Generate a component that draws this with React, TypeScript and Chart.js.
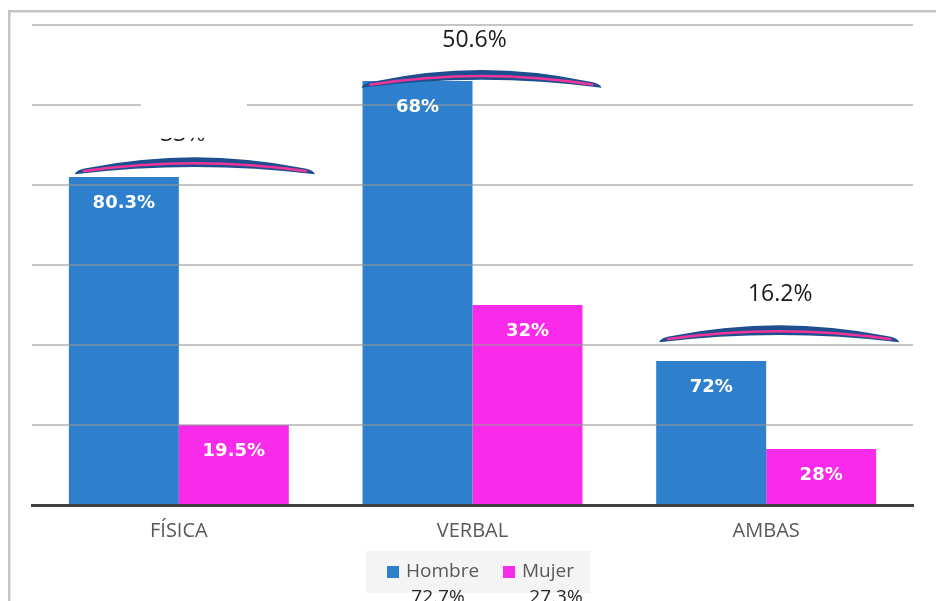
import React, { useEffect, useRef } from "react";
import { Chart, registerables } from "chart.js";

Chart.register(...registerables);

// Categories and series
const categories = ["FÍSICA", "VERBAL", "AMBAS"];
const seriesNames = ["Hombre", "Mujer"];

// Counts per category
const hombre = [41, 53, 18];
const mujer = [10, 25, 7];

// Share of each sex inside its category
const hombreLabels = ["80.3%", "68%", "72%"];
const mujerLabels = ["19.5%", "32%", "28%"];

// Share of each category over the total
const groupShares = ["33%", "50.6%", "16.2%"];

// Share of each sex over the total
const seriesShares = ["72.7%", "27.3%"];

const yMax = 60;
const yStep = 10;

const BLUE = "#2F80CC";
const PINK = "#F92AE9";
const NAVY = "#1D4F8F";
const ARC_PINK = "#F0359A";

// Brace decorations above each category, in axis units plus a horizontal shift in px
const braces = [
  { shift: 16, base: 41.6, peak: 43.1, label: 46.3, labelShift: -12 },
  { shift: 9, base: 52.4, peak: 54.0, label: 58.1, labelShift: -7 },
  { shift: 13, base: 20.6, peak: 22.1, label: 26.3, labelShift: 1 },
];

const overlayPlugin = {
  id: "overlay",
  afterDraw(chart: any) {
    const { ctx } = chart;
    const x = chart.scales.x;
    const y = chart.scales.y;
    const W = chart.width;
    const H = chart.height;

    ctx.save();

    // values inside bars
    const labelSets = [hombreLabels, mujerLabels];
    ctx.font = "bold 18px 'DejaVu Sans'";
    ctx.fillStyle = "#ffffff";
    ctx.textAlign = "center";
    ctx.textBaseline = "middle";
    chart.data.datasets.forEach((_: any, di: number) => {
      const meta = chart.getDatasetMeta(di);
      meta.data.forEach((el: any, i: number) => {
        ctx.fillText(labelSets[di][i], el.x, el.y + 26);
      });
    });

    // braces and category shares
    braces.forEach((b, i) => {
      const cx = x.getPixelForValue(i) + b.shift;
      const half = 120;
      const baseY = y.getPixelForValue(b.base);
      const peakY = y.getPixelForValue(b.peak);
      const ctrlTop = 2 * peakY - baseY;
      const ctrlBot = 2 * (peakY + 6.5) - (baseY + 1.5);

      ctx.beginPath();
      ctx.moveTo(cx - half, baseY + 2);
      ctx.quadraticCurveTo(cx - half + 1, baseY - 3, cx - half + 14, baseY - 4.5);
      ctx.quadraticCurveTo(cx, ctrlTop - 1.5, cx + half - 14, baseY - 4.5);
      ctx.quadraticCurveTo(cx + half - 1, baseY - 3, cx + half, baseY + 2);
      ctx.quadraticCurveTo(cx, ctrlBot, cx - half, baseY + 2);
      ctx.closePath();
      ctx.fillStyle = NAVY;
      ctx.fill();

      ctx.beginPath();
      ctx.moveTo(cx - half + 8, baseY - 1);
      ctx.quadraticCurveTo(cx, 2 * (peakY + 3) - (baseY - 1), cx + half - 8, baseY - 1);
      ctx.strokeStyle = ARC_PINK;
      ctx.lineWidth = 2.4;
      ctx.stroke();

      ctx.font = "23px 'Open Sans'";
      ctx.fillStyle = "#1a1a1a";
      ctx.textAlign = "center";
      ctx.textBaseline = "middle";
      ctx.fillText(groupShares[i], cx + b.labelShift, y.getPixelForValue(b.label));
    });

    // white patch over the first share label
    const c0 = x.getPixelForValue(0);
    const maskTop = y.getPixelForValue(51.2);
    const maskBottom = y.getPixelForValue(45.9);
    ctx.fillStyle = "#ffffff";
    ctx.fillRect(c0 - 38, maskTop, 106, maskBottom - maskTop);

    // outer frame (left and top edges)
    ctx.fillStyle = "#C4C4C4";
    ctx.fillRect(8, 10, W - 8, 2.5);
    ctx.fillRect(8, 10, 2.5, H - 10);

    // legend
    const lx = 366;
    const ly = 551;
    ctx.fillStyle = "#F4F4F4";
    ctx.fillRect(lx, ly, 224, 42);
    const colors = [BLUE, PINK];
    const itemX = [387, 503];
    const shareX = [438, 556];
    ctx.font = "19px 'Open Sans'";
    ctx.textAlign = "left";
    ctx.textBaseline = "middle";
    seriesNames.forEach((name, i) => {
      ctx.fillStyle = colors[i];
      ctx.fillRect(itemX[i], 566, 12, 12);
      ctx.fillStyle = "#595959";
      ctx.fillText(name, itemX[i] + 19, 572);
    });
    ctx.fillStyle = "#262626";
    ctx.textAlign = "center";
    ctx.textBaseline = "alphabetic";
    seriesShares.forEach((s, i) => {
      ctx.fillText(s, shareX[i], 603);
    });

    ctx.restore();
  },
};

export default function App() {
  const canvasRef = useRef<HTMLCanvasElement | null>(null);

  useEffect(() => {
    if (!canvasRef.current) return;
    const chart = new Chart(canvasRef.current, {
      type: "bar",
      data: {
        labels: categories,
        datasets: [
          { label: seriesNames[0], data: hombre, backgroundColor: BLUE },
          { label: seriesNames[1], data: mujer, backgroundColor: PINK },
        ],
      },
      options: {
        responsive: false,
        animation: false,
        devicePixelRatio: 1,
        layout: { padding: { top: 25, left: 32, right: 23, bottom: 44 } },
        datasets: {
          bar: { categoryPercentage: 0.749, barPercentage: 1.0 },
        },
        plugins: {
          legend: { display: false },
          tooltip: { enabled: false },
        },
        scales: {
          x: {
            grid: { display: false, drawTicks: false },
            border: { display: true, color: "#404040", width: 3, z: 2 },
            ticks: {
              color: "#595959",
              padding: 14,
              font: { family: "'Open Sans'", size: 20 },
            },
          },
          y: {
            min: 0,
            max: yMax,
            ticks: { display: false, stepSize: yStep },
            border: { display: false },
            grid: {
              drawTicks: false,
              lineWidth: 2,
              z: 1,
              color: (c: any) =>
                c.tick && c.tick.value === 0 ? "rgba(0,0,0,0)" : "rgba(150,150,150,0.55)",
            },
          },
        },
      },
      plugins: [overlayPlugin],
    });
    return () => chart.destroy();
  }, []);

  return (
    <div style={{ position: "fixed", left: 0, top: 0, width: 936, height: 601, background: "#fff" }}>
      <canvas ref={canvasRef} width={936} height={601} style={{ display: "block" }} />
    </div>
  );
}
